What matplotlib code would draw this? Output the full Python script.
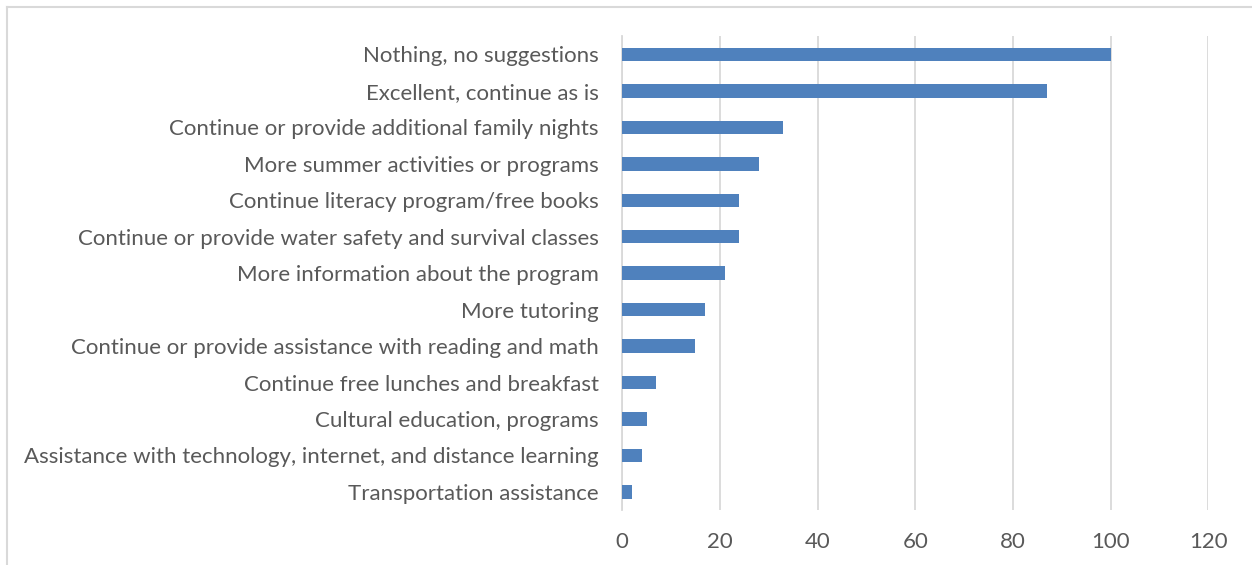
import matplotlib.pyplot as plt
from matplotlib.lines import Line2D

# Survey suggestions, top to bottom as shown
categories = [
    'Nothing, no suggestions',
    'Excellent, continue as is',
    'Continue or provide additional family nights',
    'More summer activities or programs',
    'Continue literacy program/free books',
    'Continue or provide water safety and survival classes',
    'More information about the program',
    'More tutoring',
    'Continue or provide assistance with reading and math',
    'Continue free lunches and breakfast',
    'Cultural education, programs',
    'Assistance with technology, internet, and distance learning',
    'Transportation assistance',
]
counts = [100, 87, 33, 28, 24, 24, 21, 17, 15, 7, 5, 4, 2]
x_ticks = [0, 20, 40, 60, 80, 100, 120]

text_color = '#595959'
grid_color = '#d9d9d9'

fig = plt.figure(figsize=(12.52, 5.65), dpi=100)
ax = fig.add_axes([0.497, 0.097, 0.468, 0.839])

ax.barh(categories, counts, height=0.37, color='#4f81bd', zorder=3)
ax.set_ylim(12.5, -0.5)
ax.set_xlim(0, 120)
ax.set_xticks(x_ticks)

ax.xaxis.grid(True, color=grid_color, linewidth=1.3, zorder=0)
for side in ['top', 'right', 'bottom']:
    ax.spines[side].set_visible(False)
ax.spines['left'].set_color(grid_color)
ax.spines['left'].set_linewidth(1.3)

ax.tick_params(axis='both', length=0, labelsize=16, labelcolor=text_color)
ax.tick_params(axis='y', pad=17)
ax.tick_params(axis='x', pad=16)
for lbl in ax.get_xticklabels() + ax.get_yticklabels():
    lbl.set_fontfamily('Lato')

# chart border (only top and left edges fall inside the picture)
fig.add_artist(Line2D([0.0056, 0.0056], [0, 0.988], color=grid_color, linewidth=1.5))
fig.add_artist(Line2D([0.0056, 1], [0.988, 0.988], color=grid_color, linewidth=1.5))

fig.savefig('out.png')
